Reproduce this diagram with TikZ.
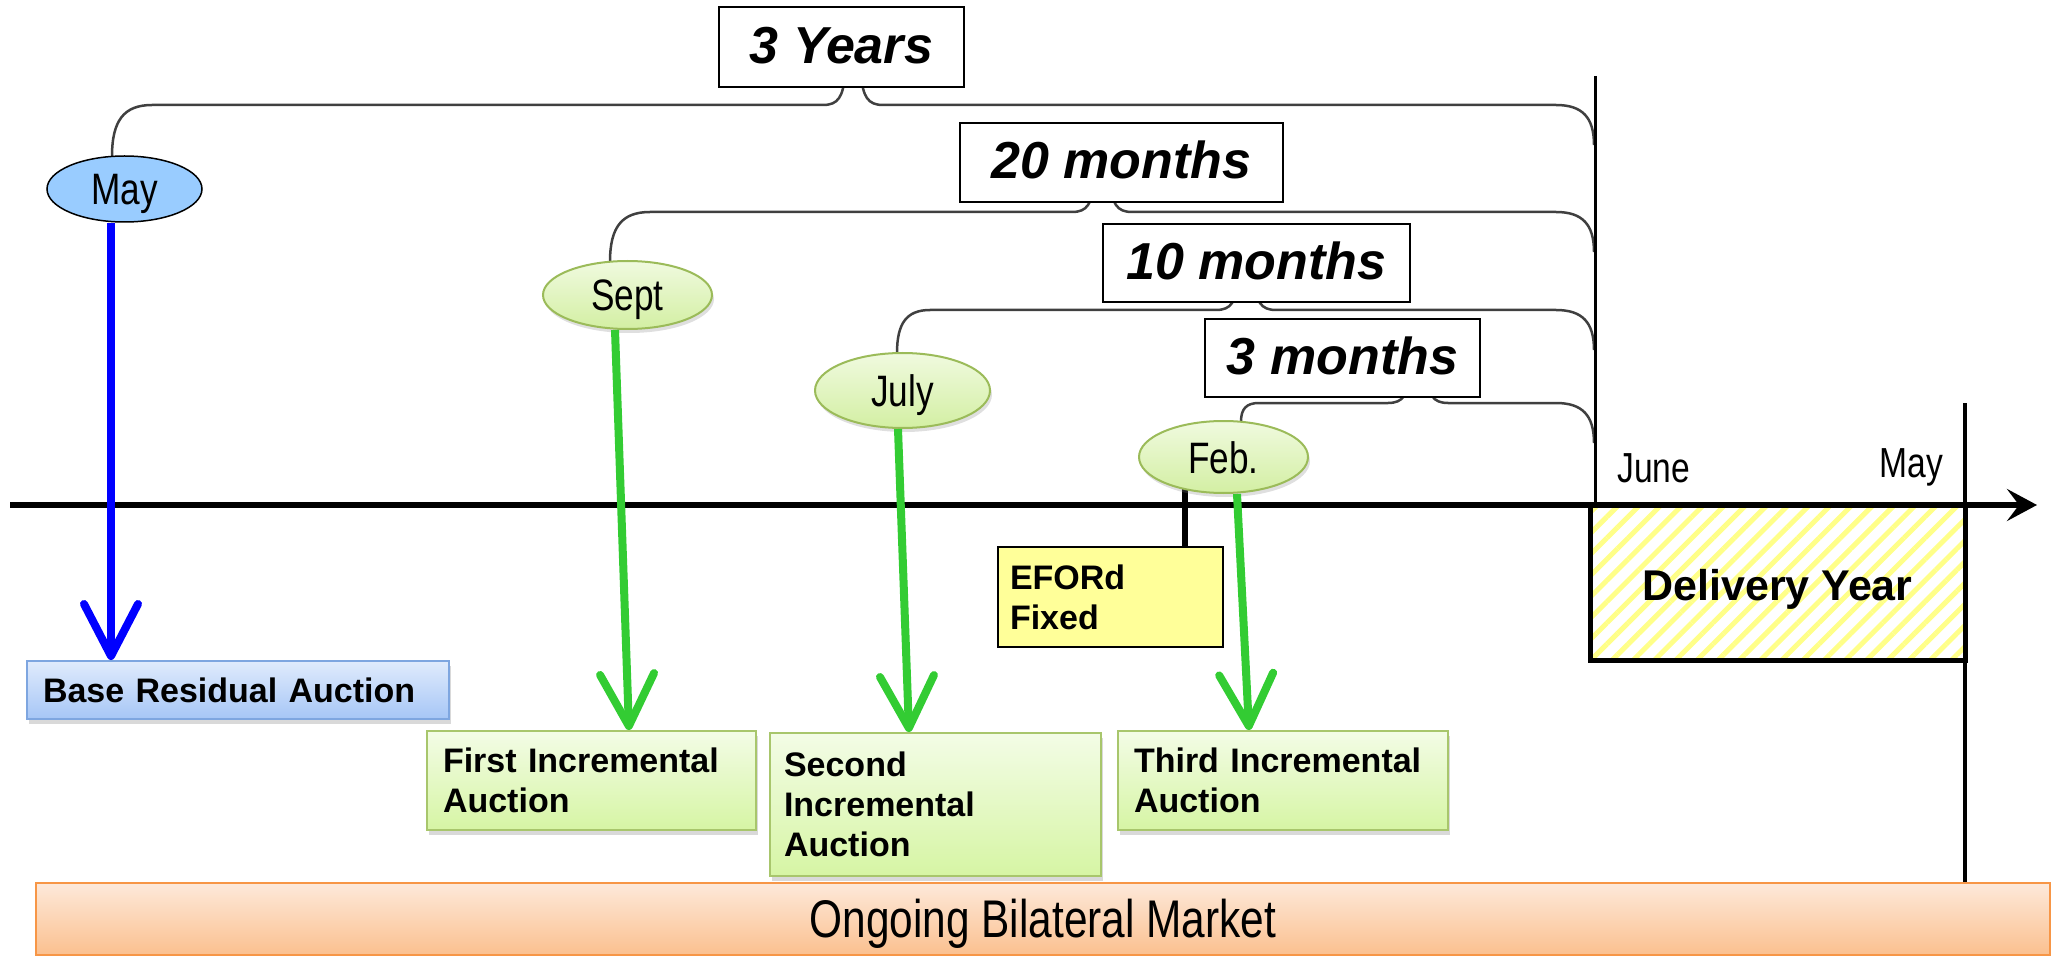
\documentclass[tikz,border=0pt]{standalone}
\usepackage{fontspec}
\setmainfont{Liberation Sans}
\newfontfamily\narrowfont[FakeStretch=0.8]{Liberation Sans}
\usetikzlibrary{arrows.meta,shapes.geometric,shadows,patterns.meta}
\definecolor{mayblue}{HTML}{99CCFF}
\definecolor{gtop}{HTML}{F0FADF}
\definecolor{gbot}{HTML}{D3EFA3}
\definecolor{gline}{HTML}{9BBB59}
\definecolor{btop}{HTML}{E0EBFC}
\definecolor{bbot}{HTML}{A6C6F6}
\definecolor{bline}{HTML}{7EA6E0}
\definecolor{gboxtop}{HTML}{F3FCE6}
\definecolor{gboxbot}{HTML}{D6F5A4}
\definecolor{gboxline}{HTML}{A8C66C}
\definecolor{efoyellow}{HTML}{FFFF99}
\definecolor{otop}{HTML}{FDE9DA}
\definecolor{obot}{HTML}{FBC08F}
\definecolor{oline}{HTML}{F79646}
\definecolor{arrblue}{HTML}{0000FF}
\definecolor{arrgreen}{HTML}{33CC33}
\definecolor{hatchyellow}{HTML}{FFFF88}
\newcommand\tlbrace[5]{%
  \draw[bracestyle] (#1,#2) .. controls (#1,#3+0.3*#2-0.3*#3) and (#1+0.3*#5,#3) .. (#1+#5,#3)
    -- (#4-30,#3) .. controls (#4-15,#3) and (#4-10,#3-8) .. (#4-8,#3-30)
    (#4+8,#3-30) .. controls (#4+10,#3-8) and (#4+15,#3) .. (#4+30,#3)
    -- (1556,#3) .. controls (1582,#3) and (1594,#3+12) .. (1594,#3+40);}
\begin{document}
\begin{tikzpicture}[x=1pt,y=-1pt,
  bracestyle/.style={draw=black!75,line width=2.5pt},
  durbox/.style={draw=black,line width=2pt,fill=white,inner sep=0pt,
    font=\fontsize{52}{60}\selectfont\bfseries\itshape,text height=37pt,text depth=4pt},
  month/.style={ellipse,inner sep=0pt,font=\narrowfont\fontsize{44}{50}\selectfont,
    text height=34pt,text depth=2pt},
  gmonth/.style={month,draw=gline,line width=2pt,top color=gtop,bottom color=gbot,
    drop shadow={shadow xshift=2pt,shadow yshift=-4pt,opacity=0.25}},
  bmonth/.style={month,draw=black,line width=1.5pt,fill=mayblue},
  auct/.style={rectangle,anchor=north west,inner xsep=16pt,inner ysep=0pt,align=left,
    font=\bfseries\fontsize{34}{40}\selectfont,line width=2pt},
  gauct/.style={auct,draw=gboxline,top color=gboxtop,bottom color=gboxbot,
    drop shadow={shadow xshift=2pt,shadow yshift=-5pt,opacity=0.3}},
  barrow/.style={draw=arrblue,line width=8pt,-{Straight Barb[round,length=52pt,width=54pt]}},
  garrow/.style={draw=arrgreen,line width=8pt,-{Straight Barb[round,length=52pt,width=54pt]}},
  axisline/.style={line width=6pt,-{Stealth[length=30pt,width=32pt,inset=12pt]}},
  monthlabel/.style={inner sep=0pt,font=\narrowfont\fontsize{42}{50}\selectfont}
]
\useasboundingbox (0,0) rectangle (2053,957);

% braces
\tlbrace{112}{156.4}{105}{853}{40}
\tlbrace{610}{261.7}{212}{1102}{40}
\tlbrace{897}{353}{310}{1246}{33}
\tlbrace{1241}{421.8}{403}{1418}{18}

% duration boxes
\node[durbox,minimum width=245pt,minimum height=80pt] (y3) at (841.5,47) {3 Years};
\node[durbox,minimum width=323pt,minimum height=79pt] (m20) at (1121.5,162.5) {20 months};
\node[durbox,minimum width=307pt,minimum height=78pt] (m10) at (1256.5,263) {10 months};
\node[durbox,minimum width=275pt,minimum height=78pt] (m3) at (1342.5,358) {3 months};

% axis
\coordinate (axL) at (10,505);
\coordinate (axR) at (2037,505);
\draw[axisline] (axL) -- (axR);

% bilateral market
\node[draw=oline,line width=2pt,top color=otop,bottom color=obot,minimum width=2014pt,
  minimum height=72pt,inner sep=0pt,font=\narrowfont\fontsize{53}{60}\selectfont,
  text height=45pt,text depth=9pt] (bil) at (1043,919) {Ongoing Bilateral Market};

% delivery year
\node[draw=black,line width=5pt,pattern={Lines[angle=45,distance=15pt,line width=5pt]},
  pattern color=hatchyellow,minimum width=375pt,minimum height=155pt,inner sep=0pt,
  font=\bfseries\fontsize{43}{50}\selectfont,text height=39pt,text depth=4pt]
  (dy) at (1777.5,582.5) {Delivery Year};
\coordinate (junetop) at (1595,76);
\draw[line width=3pt] (junetop) -- (junetop |- dy.north);
\coordinate (maytop) at (1965,403);
\draw[line width=4pt] (maytop) -- (maytop |- bil.north);
\node[monthlabel,anchor=base west] (june) at (1617,482) {June};
\node[monthlabel,anchor=base east] (mayend) at (1943,477) {May};

% auction boxes
\node[auct,draw=bline,top color=btop,bottom color=bbot,
  drop shadow={shadow xshift=2pt,shadow yshift=-5pt,opacity=0.3},
  minimum width=422pt,minimum height=58pt,text width=390pt] (bra) at (26,660) {Base Residual Auction};
\node[gauct,minimum width=329pt,minimum height=99pt,text width=297pt] (fir) at (426,730) {First Incremental\\Auction};
\node[gauct,minimum width=331pt,minimum height=143pt,text width=303pt,inner xsep=14pt] (sec) at (769,732) {Second\\Incremental\\Auction};
\node[gauct,minimum width=330pt,minimum height=99pt,text width=298pt] (thi) at (1117,730) {Third Incremental\\Auction};
\node[auct,draw=black,fill=efoyellow,minimum width=225pt,minimum height=100pt,text width=201pt,inner xsep=12pt] (efo) at (997,546) {EFORd\\Fixed};

% EFORd tick
\draw[line width=6pt] ([xshift=74.5pt]efo.north) -- ++(0,-57);

% month ellipses
\node[bmonth,minimum width=155pt,minimum height=66pt] (may) at (124.5,189) {May};
\node[gmonth,minimum width=169pt,minimum height=68pt] (sep) at (627.5,295) {Sept};
\node[gmonth,minimum width=175pt,minimum height=75pt] (jul) at (902.5,390.5) {July};
\node[gmonth,minimum width=169pt,minimum height=72pt] (feb) at (1223.5,457) {Feb.};

% arrows
\draw[barrow] ([xshift=-13.5pt]may.south) -- ([xshift=-127pt]bra.north);
\draw[garrow] ([xshift=-12.5pt]sep.south) -- ([xshift=37.5pt]fir.north);
\draw[garrow] ([xshift=-4.5pt]jul.south) -- ([xshift=-26.5pt]sec.north);
\draw[garrow] ([xshift=13.5pt]feb.south) -- ([xshift=-34pt]thi.north);
\end{tikzpicture}
\end{document}
